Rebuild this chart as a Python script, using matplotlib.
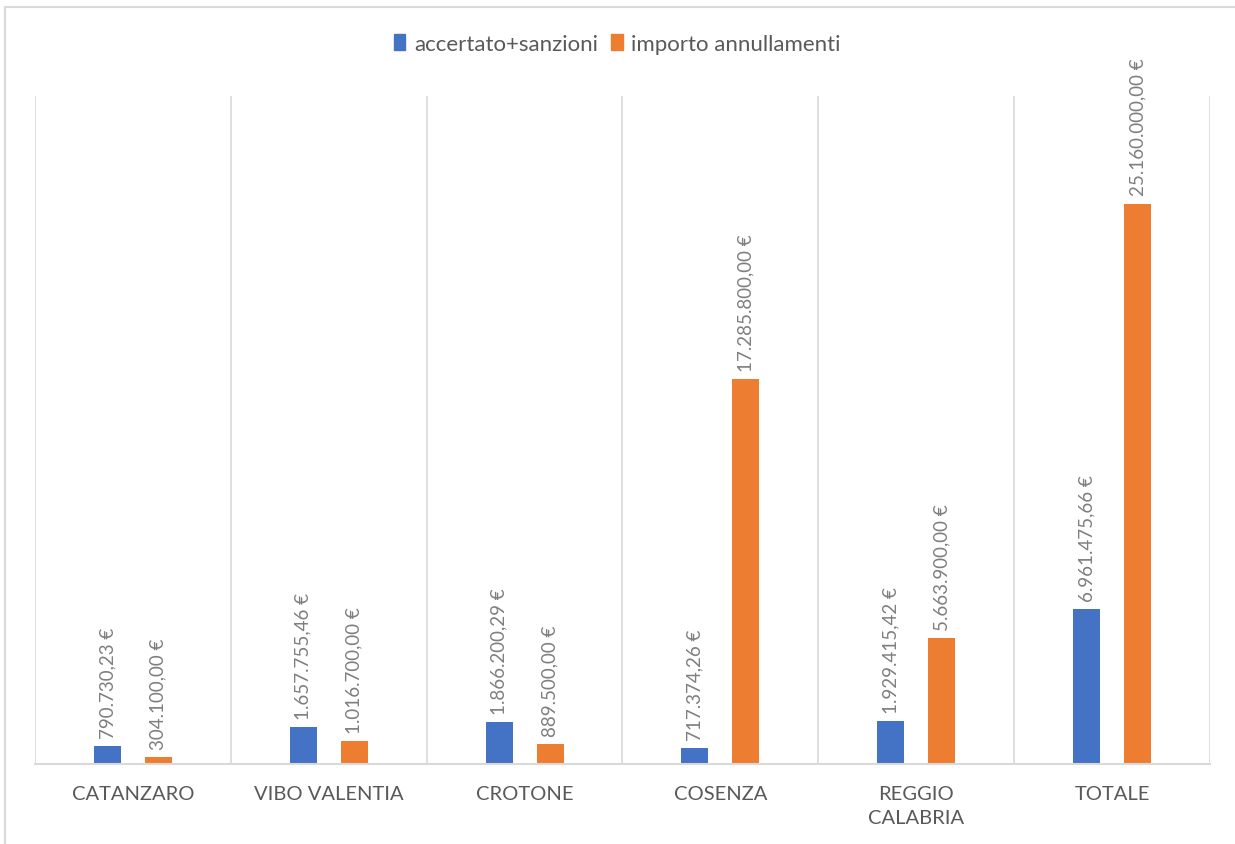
import numpy as np
import matplotlib.pyplot as plt
from matplotlib.patches import Patch
from matplotlib.lines import Line2D

# ─── Data ─────────────────────────────────────────────────────────────────────
CATEGORIES = ["CATANZARO", "VIBO VALENTIA", "CROTONE", "COSENZA",
              "REGGIO\nCALABRIA", "TOTALE"]
ACCERTATO = [790730.23, 1657755.46, 1866200.29, 717374.26, 1929415.42, 6961475.66]
ANNULLAMENTI = [304100.00, 1016700.00, 889500.00, 17285800.00, 5663900.00, 25160000.00]
SERIES_NAMES = ["accertato+sanzioni", "importo annullamenti"]

# ─── Style ────────────────────────────────────────────────────────────────────
BLUE = "#4472C4"
ORANGE = "#ED7D31"
GRID = "#D9D9D9"
TEXT = "#7F7F7F"
plt.rcParams["font.family"] = ["Lato", "DejaVu Sans"]


def eur(v):
    s = f"{v:,.2f}"  # 1,234,567.89
    s = s.replace(",", "X").replace(".", ",").replace("X", ".")
    return s + " €"


W, H = 1235, 845
fig = plt.figure(figsize=(W / 100, H / 100), dpi=100)
ax = fig.add_axes([35 / W, 1 - 765 / H, (1210 - 35) / W, (765 - 97) / H])

x = np.arange(len(CATEGORIES))
bw = 0.138
off = 0.13
ax.bar(x - off, ACCERTATO, width=bw, color=BLUE, zorder=3)
ax.bar(x + off, ANNULLAMENTI, width=bw, color=ORANGE, zorder=3)

for xi, v in zip(x - off, ACCERTATO):
    ax.annotate(eur(v), (xi, v), xytext=(0, 6), textcoords="offset points",
                rotation=90, ha="center", va="bottom", fontsize=13.5, color=TEXT)
for xi, v in zip(x + off, ANNULLAMENTI):
    ax.annotate(eur(v), (xi, v), xytext=(0, 6), textcoords="offset points",
                rotation=90, ha="center", va="bottom", fontsize=13.5, color=TEXT,
                annotation_clip=False)

ax.set_xlim(-0.5, len(CATEGORIES) - 0.5)
ax.set_ylim(0, 30e6)
for b in np.arange(-0.5, len(CATEGORIES), 1.0):
    ax.axvline(b, color=GRID, lw=1.2, zorder=1)

ax.set_yticks([])
ax.set_xticks(x)
ax.set_xticklabels(CATEGORIES, fontsize=14.5, color="#595959", linespacing=1.5)
ax.tick_params(axis="x", length=0, pad=15)
for side in ["top", "right", "left"]:
    ax.spines[side].set_visible(False)
ax.spines["bottom"].set_color(GRID)
ax.spines["bottom"].set_linewidth(1.5)
ax.spines["bottom"].set_zorder(4)

handles = [Patch(color=BLUE), Patch(color=ORANGE)]
fig.legend(handles, SERIES_NAMES, loc="center", bbox_to_anchor=(0.5, 1 - 45 / H),
           ncol=2, frameon=False, fontsize=16, labelcolor="#595959",
           handlelength=0.5, handleheight=0.7, handletextpad=0.4,
           columnspacing=0.6)

# chart frame (left and top edges visible)
fig.add_artist(Line2D([5 / W, 5 / W], [0, 1 - 8 / H], color=GRID, lw=1.5))
fig.add_artist(Line2D([5 / W, 1], [1 - 8 / H, 1 - 8 / H], color=GRID, lw=1.5))

fig.savefig("out.png", dpi=100)
